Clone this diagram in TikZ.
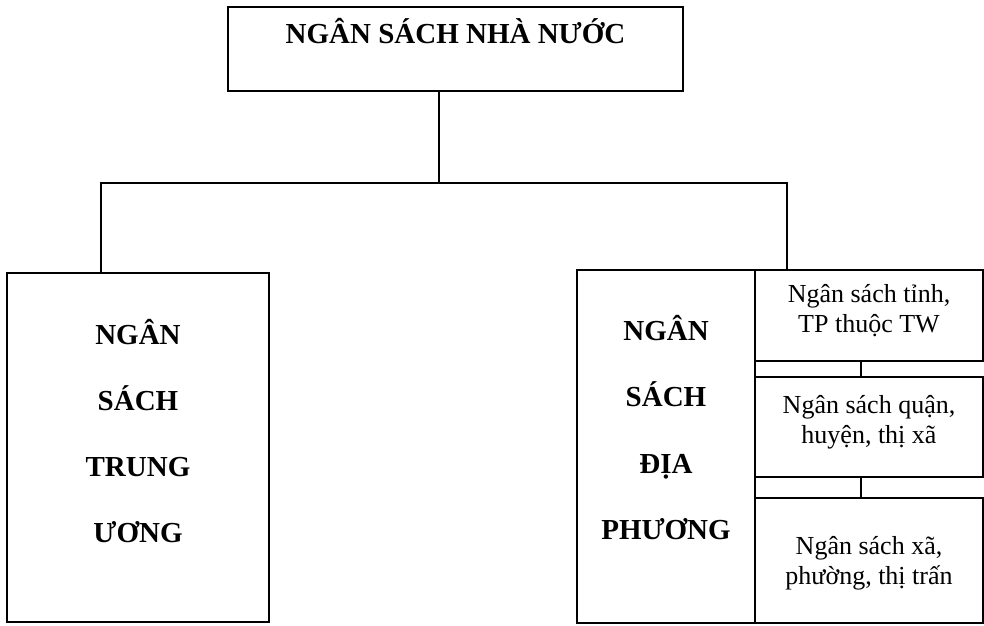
\documentclass[tikz,border=0pt]{standalone}
\usepackage{fontspec}
\setmainfont{Liberation Serif}
\usetikzlibrary{positioning}

\tikzset{
    box/.style={draw, line width=1.6pt, inner sep=0pt},
    link/.style={line width=1.6pt},
    bigword/.style={font=\fontsize{29}{33}\selectfont\bfseries, anchor=base, inner sep=0pt},
    subtext/.style={font=\fontsize{26}{30}\selectfont, align=center, inner sep=0pt}
}

\begin{document}
\begin{tikzpicture}[x=1pt,y=-1pt]
    \useasboundingbox (0,0) rectangle (984,625);
    % boxes
    \node[box, minimum width=455pt, minimum height=84pt]  (nsnn)    at (455.5,49)  {};
    \node[box, minimum width=262pt, minimum height=349pt] (nstw)    at (138,447.5) {};
    \node[box, minimum width=178pt, minimum height=353pt] (nsdp)    at (666,446.5) {};
    \node[box, minimum width=228pt, minimum height=91pt]  (nstinh)  at (869,315.5) {};
    \node[box, minimum width=228pt, minimum height=100pt] (nshuyen) at (869,427)   {};
    \node[box, minimum width=228pt, minimum height=125pt] (nsxa)    at (869,560.5) {};
    % labels
    \node[bigword] (nsnntext) at (455.5,43) {NGÂN SÁCH NHÀ NƯỚC};
    \foreach \w [count=\i] in {NGÂN,SÁCH,TRUNG,ƯƠNG} {
        \node[bigword] (tw\i) at (138,{344+66.3*(\i-1)}) {\w};
    }
    \foreach \w [count=\i] in {NGÂN,SÁCH,ĐỊA,PHƯƠNG} {
        \node[bigword] (dp\i) at (666,{340+66.6*(\i-1)}) {\w};
    }
    \node[subtext] (tinhtext)  at (869,311) {Ngân sách tỉnh,\\TP thuộc TW};
    \node[subtext] (huyentext) at (869,422) {Ngân sách quận,\\huyện, thị xã};
    \node[subtext] (xatext)    at (869,563) {Ngân sách xã,\\phường, thị trấn};
    % connectors
    \coordinate (trunk) at (439,183);
    \coordinate (leftdrop) at (101,183);
    \coordinate (rightdrop) at (787,183);
    \coordinate (sublink) at (861,0);
    \draw[link] (nsnn.south -| trunk) -- (trunk);
    \draw[link] (nstw.north -| leftdrop) -- (leftdrop) -- (rightdrop) -- (nsdp.north -| rightdrop);
    \draw[link] (nstinh.south -| sublink) -- (nshuyen.north -| sublink);
    \draw[link] (nshuyen.south -| sublink) -- (nsxa.north -| sublink);
\end{tikzpicture}
\end{document}
